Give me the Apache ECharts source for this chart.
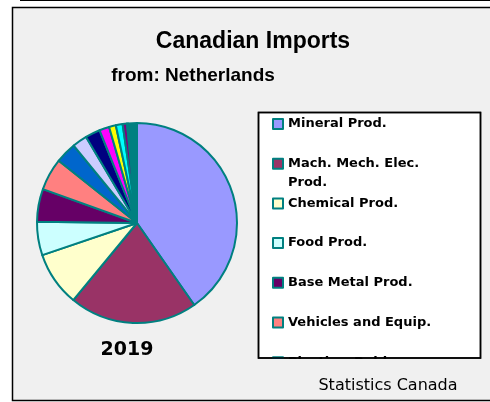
<!DOCTYPE html>
<html lang="en">
<head>
    <meta charset="utf-8">
    <script src="https://cdn.jsdelivr.net/npm/echarts@6/dist/echarts.min.js"></script>
    <title>Canadian Imports from Netherlands</title>
    <style>
        html, body { margin: 0; padding: 0; background: #fff; }
    </style>
</head>
<body>
<div id="main" style="width: 490px;height:402px;"></div>
<script type="text/javascript">
    // import shares by product group, 2019 (percent)
    var categories = [
        'Mineral Prod.', 'Mach. Mech. Elec. Prod.', 'Chemical Prod.', 'Food Prod.',
        'Base Metal Prod.', 'Vehicles and Equip.', 'Plastics, Rubber', 'Misc. Manuf. Prod.',
        'Precision Instr.', 'Wood Prod.', 'Textile Prod.', 'Vegetable Prod.',
        'Stone, Glass', 'Animal Prod.', 'Other'
    ];
    var shares = [40.3, 20.7, 8.8, 5.4, 5.3, 5.2, 3.4, 2.4, 2.4, 1.6, 1.1, 1.1, 0.7, 0.2, 1.4];
    var colors = [
        '#9999FF', '#993366', '#FFFFCC', '#CCFFFF', '#660066', '#FF8080', '#0066CC', '#CCCCFF',
        '#000080', '#FF00FF', '#FFFF00', '#00FFFF', '#800080', '#800000', '#008080'
    ];

    var myChart = echarts.init(document.getElementById('main'));

    var rowStep = 39.7;   // legend rows are evenly spaced, wrapped label doesn't push the next one
    var legendTop = 114.5;
    var legendText = {
        color: '#000',
        fontFamily: 'DejaVu Sans',
        fontWeight: 'bold',
        fontSize: 13,
        lineHeight: 19,
        rich: {
            a: {fontFamily: 'DejaVu Sans', fontWeight: 'bold', fontSize: 13, lineHeight: 19},
            b: {fontFamily: 'DejaVu Sans', fontWeight: 'bold', fontSize: 13, lineHeight: 0,
                height: 18.4, verticalAlign: 'top'}
        }
    };

    function makeLegend(names, top) {
        return {
            orient: 'vertical',
            left: 272,
            top: top,
            padding: 0,
            itemGap: rowStep - 19,
            itemWidth: 10,
            itemHeight: 10,
            icon: 'rect',
            selectedMode: false,
            data: names,
            formatter: function (name) {
                if (name === 'Mach. Mech. Elec. Prod.') {
                    return '{a|Mach. Mech. Elec.}\n{b|Prod.}';
                }
                return name;
            },
            textStyle: legendText
        };
    }

    var option = {
        animation: false,
        backgroundColor: '#fff',
        color: colors,
        graphic: [
            // top rule and grey frame
            {type: 'rect', z: 0, shape: {x: 20, y: 0, width: 470, height: 1}, style: {fill: '#000'}},
            {type: 'rect', z: 0, shape: {x: 12.5, y: 7.5, width: 490, height: 393},
                style: {fill: '#f0f0f0', stroke: '#000', lineWidth: 1.5}},
            // legend box
            {type: 'rect', z: 1, shape: {x: 258.5, y: 112.5, width: 222, height: 245.5},
                style: {fill: '#fff', stroke: '#000', lineWidth: 1.5}},
            {type: 'text', z: 1, style: {x: 253, y: 42, text: 'Canadian Imports', textAlign: 'center',
                textVerticalAlign: 'middle', font: 'bold 23px "Liberation Sans", Arial', fill: '#000'}},
            {type: 'text', z: 1, style: {x: 193, y: 76, text: 'from: Netherlands', textAlign: 'center',
                textVerticalAlign: 'middle', font: 'bold 19px "Liberation Sans", Arial', fill: '#000'}},
            {type: 'text', z: 1, style: {x: 127, y: 350, text: '2019', textAlign: 'center',
                textVerticalAlign: 'middle', font: 'bold 19px "DejaVu Sans"', fill: '#000'}},
            // legend overflow is clipped by the box
            {type: 'rect', z: 100, shape: {x: 255, y: 359, width: 232, height: 40}, style: {fill: '#f0f0f0'}},
            {type: 'rect', z: 101, shape: {x: 258.5, y: 112.5, width: 222, height: 245.5},
                style: {fill: null, stroke: '#000', lineWidth: 1.5}},
            {type: 'text', z: 102, style: {x: 388, y: 386, text: 'Statistics Canada', textAlign: 'center',
                textVerticalAlign: 'middle', font: '16px "DejaVu Sans"', fill: '#000'}}
        ],
        legend: [
            makeLegend(categories.slice(0, 2), legendTop),
            makeLegend(categories.slice(2, 7), legendTop + 2 * rowStep)
        ],
        series: [
            {
                type: 'pie',
                center: [137, 223],
                radius: 100,
                startAngle: 90,
                clockwise: true,
                label: {show: false},
                labelLine: {show: false},
                emphasis: {disabled: true},
                itemStyle: {borderColor: '#008080', borderWidth: 2},
                data: categories.map(function (c, i) {
                    return {name: c, value: shares[i]};
                })
            }
        ]
    };

    myChart.setOption(option);
</script>
</body>
</html>
